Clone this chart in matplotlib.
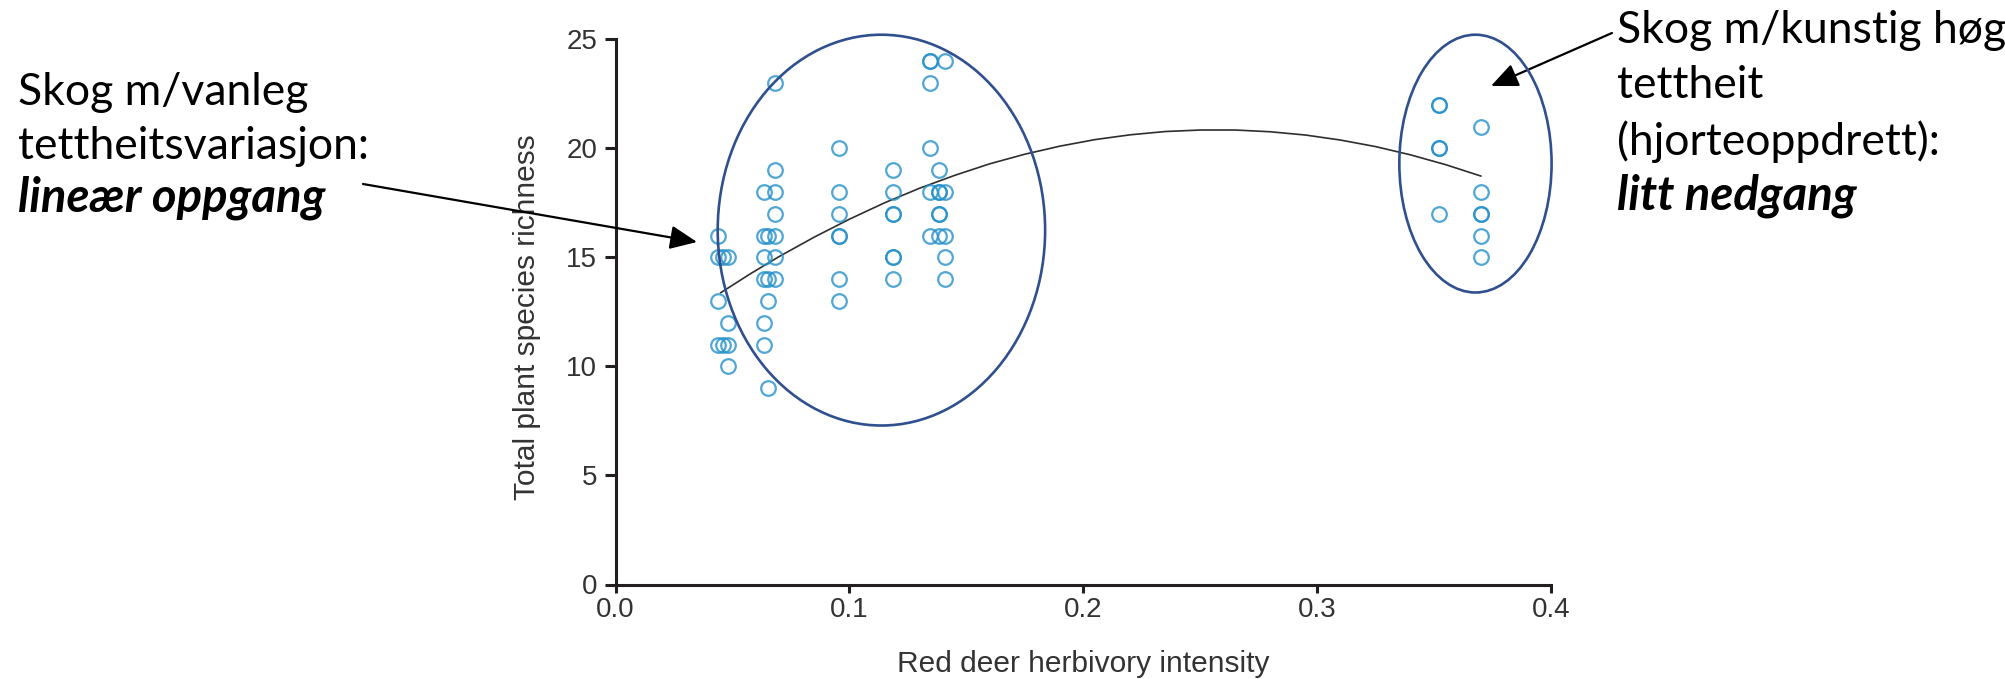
import matplotlib.pyplot as plt
from matplotlib.patches import Ellipse

# Vanleg tettheit (venstre gruppe)
x_normal = [0.044, 0.044, 0.044, 0.044, 0.046, 0.046, 0.048, 0.048, 0.048, 0.048,
            0.0636, 0.0636, 0.0636, 0.0636, 0.0636, 0.0636,
            0.0653, 0.0653, 0.0653, 0.0653,
            0.0682, 0.0682, 0.0682, 0.0682, 0.0682, 0.0682, 0.0682,
            0.0957, 0.0957, 0.0957, 0.0957, 0.0957, 0.0957, 0.0957,
            0.1188, 0.1188, 0.1188, 0.1188, 0.1188, 0.1188, 0.1188,
            0.1345, 0.1345, 0.1345, 0.1345, 0.1345, 0.1345,
            0.1385, 0.1385, 0.1385, 0.1385, 0.1385, 0.1385,
            0.1409, 0.1409, 0.1409, 0.1409, 0.1409]
y_normal = [16, 15, 13, 11, 15, 11, 15, 12, 11, 10,
            18, 16, 15, 14, 12, 11,
            16, 14, 13, 9,
            23, 19, 18, 17, 16, 15, 14,
            20, 18, 17, 16, 16, 14, 13,
            19, 18, 17, 17, 15, 15, 14,
            24, 24, 23, 20, 18, 16,
            19, 18, 18, 17, 17, 16,
            24, 18, 16, 15, 14]

# Hjorteoppdrett (hogre gruppe)
x_farm = [0.3522, 0.3522, 0.3522, 0.3522, 0.3522,
          0.370, 0.370, 0.370, 0.370, 0.370, 0.370]
y_farm = [22, 22, 20, 20, 17,
          21, 18, 17, 17, 16, 15]

# Tilpassa kurve, avlest frå figuren
curve_x = [0.045, 0.058, 0.07, 0.085, 0.10, 0.115, 0.13, 0.145, 0.16, 0.175, 0.19,
           0.205, 0.22, 0.235, 0.25, 0.265, 0.28, 0.295, 0.31, 0.325, 0.34, 0.355, 0.37]
curve_y = [13.38, 14.27, 15.04, 15.93, 16.75, 17.50, 18.17, 18.76, 19.29, 19.73, 20.10,
           20.40, 20.62, 20.77, 20.84, 20.84, 20.76, 20.61, 20.38, 20.08, 19.70, 19.25, 18.73]

x_ticks = [0.0, 0.1, 0.2, 0.3, 0.4]
y_ticks = [0, 5, 10, 15, 20, 25]

W, H = 2005, 679
fig = plt.figure(figsize=(W / 100, H / 100), dpi=100)
ax = fig.add_axes([615.5 / W, (H - 584.5) / H, (1551 - 615.5) / W, (584.5 - 39.3) / H])


def px(x, y):
    return x / W, 1 - y / H


axis_font = ['Liberation Sans', 'DejaVu Sans']
txt_col = '#333333'

ax.plot(curve_x, curve_y, color='#2e2e2e', lw=1.2, zorder=2)
ax.plot(x_normal + x_farm, y_normal + y_farm, 'o', mfc='none', mec='#2490ca',
        ms=10.5, mew=1.6, alpha=0.8, zorder=3)

ax.set_xlim(0, 0.4)
ax.set_ylim(0, 25)
ax.set_xticks(x_ticks)
ax.set_xticklabels([f'{t:.1f}' for t in x_ticks])
ax.set_yticks(y_ticks)
for s in ['top', 'right']:
    ax.spines[s].set_visible(False)
for s in ['left', 'bottom']:
    ax.spines[s].set_linewidth(2.2)
    ax.spines[s].set_color('#231f20')
ax.tick_params(axis='x', length=5.8, width=2.2, color='#231f20', pad=3.5,
               labelsize=20, labelcolor=txt_col)
ax.tick_params(axis='y', length=7.7, width=2.2, color='#231f20', pad=5.5,
               labelsize=20, labelcolor=txt_col)
for lab in ax.get_xticklabels() + ax.get_yticklabels():
    lab.set_family(axis_font)

ax.set_xlabel('Red deer herbivory intensity', fontsize=21.5, color=txt_col, family=axis_font)
ax.set_ylabel('Total plant species richness', fontsize=21.5, color=txt_col, family=axis_font)
ax.xaxis.set_label_coords(0.5, -0.12)
ax.yaxis.set_label_coords(-0.080, 0.49)

# Ellipsar rundt gruppene
ell_col = '#2f4f8f'
ax.add_patch(Ellipse((0.1137, 16.25), 0.140, 17.92, fill=False, ec=ell_col, lw=1.9,
                     clip_on=False, zorder=4))
ax.add_patch(Ellipse((0.3677, 19.30), 0.0651, 11.82, fill=False, ec=ell_col, lw=1.9,
                     clip_on=False, zorder=4))

# Piler
arrow = dict(arrowstyle='-|>,head_length=0.75,head_width=0.33', color='black', lw=1.6,
             mutation_scale=22, shrinkA=0, shrinkB=0)
ax.annotate('', xy=px(697, 242), xycoords='figure fraction',
            xytext=px(363, 184), textcoords='figure fraction', arrowprops=arrow)
ax.annotate('', xy=px(1491, 86), xycoords='figure fraction',
            xytext=px(1612, 33), textcoords='figure fraction', arrowprops=arrow)

# Tekstar
tfont = ['Lato', 'DejaVu Sans']
left_lines = [('Skog m/vanleg', 105, 'normal'),
              ('tettheitsvariasjon:', 159, 'normal'),
              ('lineær oppgang', 212, 'bold')]
right_lines = [('Skog m/kunstig høg', 43, 'normal'),
               ('tettheit', 98, 'normal'),
               ('(hjorteoppdrett):', 155, 'normal'),
               ('litt nedgang', 209, 'bold')]
for xl, lines in [(18, left_lines), (1617, right_lines)]:
    for s, yb, w in lines:
        bold = w == 'bold'
        fig.text(*px(xl, yb), s, fontsize=34 if bold else 32, family=tfont,
                 va='baseline', ha='left', fontweight=w,
                 fontstyle='italic' if bold else 'normal')

fig.savefig('out.png', dpi=100)
